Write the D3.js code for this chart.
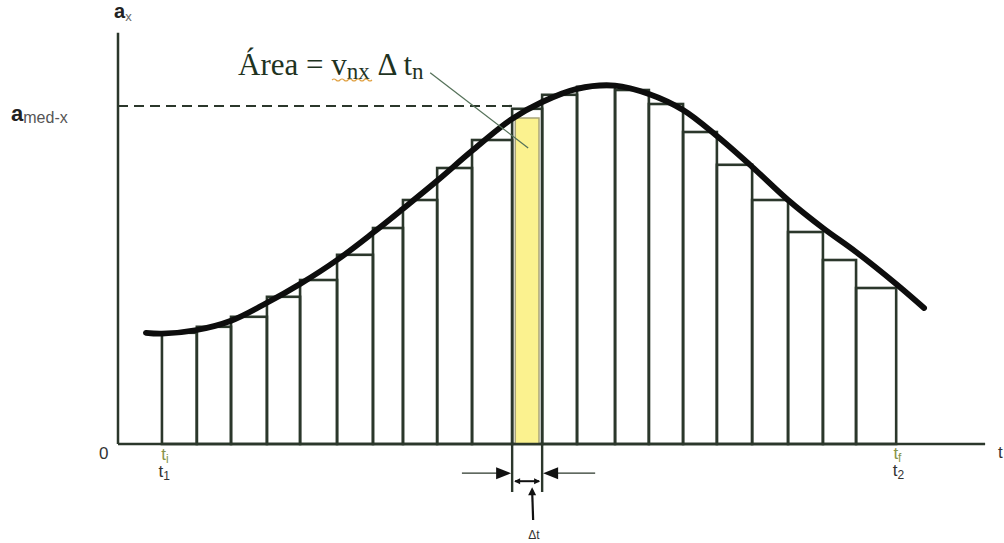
<!DOCTYPE html>
<html>
<head>
<meta charset="utf-8">
<script src="https://cdn.jsdelivr.net/npm/d3@7/dist/d3.min.js"></script>
<style>
  body { margin: 0; background: #fff; }
</style>
</head>
<body>
<script>
// t positions of the vertical lines (t_i ... t_f)
const gridT = [1.26, 2.26, 3.24, 4.27, 5.22, 6.28, 7.31, 8.17, 9.15, 10.15, 11.30,
               12.16, 13.16, 14.25, 15.22, 16.20, 17.17, 18.18, 19.21, 20.21, 21.16, 22.31];
// height of each rectangle (one per interval)
const stepA = [2.78, 2.93, 3.18, 3.68, 4.10, 4.73, 5.40, 6.10, 6.90, 7.60, 8.38,
               8.73, 8.93, 8.85, 8.50, 7.80, 6.98, 6.10, 5.30, 4.60, 3.90];
// the a_x(t) curve
const curveT = [0.80, 1.26, 2.26, 3.24, 4.27, 5.22, 6.28, 7.31, 8.17, 9.15, 10.15, 11.30,
                12.16, 13.16, 14.25, 15.22, 16.20, 17.17, 18.18, 19.21, 20.21, 21.16, 22.31, 23.11];
const curveA = [2.78, 2.76, 2.85, 3.08, 3.53, 4.00, 4.60, 5.28, 5.88, 6.58, 7.33, 8.13,
                8.55, 8.88, 8.96, 8.75, 8.35, 7.70, 6.93, 6.10, 5.40, 4.80, 4.00, 3.40];
const aMed = 8.45;
const barT = [11.39, 12.07];   // highlighted strip
const barA = 8.15;

const width = 1004, height = 543;
const ink = "#2b372b";

const svg = d3.select("body").append("svg")
    .attr("width", width)
    .attr("height", height);

const x = d3.scaleLinear().domain([0, 25]).range([118, 990]);
const y = d3.scaleLinear().domain([0, 10]).range([444, 44]);

// rectangles
svg.selectAll("rect.step")
    .data(stepA)
    .enter()
    .append("rect")
    .attr("class", "step")
    .attr("x", (d, i) => x(gridT[i]))
    .attr("width", (d, i) => x(gridT[i + 1]) - x(gridT[i]))
    .attr("y", d => y(d))
    .attr("height", d => y(0) - y(d))
    .attr("fill", "none")
    .attr("stroke", ink)
    .attr("stroke-width", 2.6);

// yellow strip
svg.append("rect")
    .attr("x", x(barT[0]))
    .attr("width", x(barT[1]) - x(barT[0]))
    .attr("y", y(barA))
    .attr("height", y(0) - y(barA))
    .attr("fill", "#fbf28f")
    .attr("stroke", "#a8a47a")
    .attr("stroke-width", 1.5);

// axes
svg.append("line")
    .attr("x1", x(0)).attr("x2", x(0))
    .attr("y1", y(0)).attr("y2", y(10.28))
    .attr("stroke", ink).attr("stroke-width", 2.5);
svg.append("line")
    .attr("x1", x(0)).attr("x2", x(24.86))
    .attr("y1", y(0)).attr("y2", y(0))
    .attr("stroke", ink).attr("stroke-width", 2.5);

// mean value dashed line
svg.append("line")
    .attr("x1", x(0)).attr("x2", x(11.33))
    .attr("y1", y(aMed)).attr("y2", y(aMed))
    .attr("stroke", ink).attr("stroke-width", 2.2)
    .attr("stroke-dasharray", "10,6");

// curve
const line = d3.line()
    .x((d, i) => x(curveT[i]))
    .y(d => y(d))
    .curve(d3.curveCatmullRom);
svg.append("path")
    .attr("d", line(curveA))
    .attr("fill", "none")
    .attr("stroke", "#0d0d0d")
    .attr("stroke-width", 5.8)
    .attr("stroke-linecap", "round");

// leader line from the label to the strip
svg.append("line")
    .attr("x1", x(8.95)).attr("y1", y(9.28))
    .attr("x2", x(11.76)).attr("y2", y(7.4))
    .attr("stroke", "#56725a").attr("stroke-width", 1.3);

// Área label
const area = svg.append("text")
    .attr("x", 238).attr("y", 75)
    .attr("font-family", "'Liberation Serif', 'Times New Roman', serif")
    .attr("font-size", 31)
    .attr("fill", "#1f331f");
area.append("tspan").text("Área = v");
area.append("tspan").attr("font-size", 23).attr("dy", 4).text("nx");
area.append("tspan").attr("dy", -4).text(" Δ t");
area.append("tspan").attr("font-size", 23).attr("dy", 4).text("n");
// wavy spell-check mark under v
svg.append("path")
    .attr("d", "M332,80 q2,-2 4,0 t4,0 t4,0 t4,0 t4,0 t4,0 t4,0 t4,0 t4,0 t4,0")
    .attr("fill", "none").attr("stroke", "#e0a040").attr("stroke-width", 1.1);

// axis labels
const sans = "'Liberation Sans', Arial, sans-serif";
const ax = svg.append("text").attr("x", 114).attr("y", 18)
    .attr("font-family", sans).attr("font-size", 20).attr("font-weight", "bold").attr("fill", "#222");
ax.append("tspan").text("a");
ax.append("tspan").attr("font-size", 13).attr("font-weight", "normal").attr("fill", "#666").attr("dy", 3).text("x");

const am = svg.append("text").attr("x", 11).attr("y", 121)
    .attr("font-family", sans).attr("font-size", 22).attr("font-weight", "bold").attr("fill", "#222");
am.append("tspan").text("a");
am.append("tspan").attr("font-size", 16).attr("font-weight", "normal").attr("fill", "#555").attr("dy", 2).text("med-x");

svg.append("text").attr("x", 99).attr("y", 459)
    .attr("font-family", sans).attr("font-size", 17).attr("fill", "#333").text("0");
svg.append("text").attr("x", 998).attr("y", 458)
    .attr("font-family", sans).attr("font-size", 17).attr("fill", "#333").text("t");

function tLabel(t, yy, sub, color) {
    const tx = svg.append("text").attr("x", x(t)).attr("y", yy)
        .attr("font-family", sans).attr("font-size", 17).attr("fill", color);
    tx.append("tspan").text("t");
    tx.append("tspan").attr("font-size", 12).attr("dy", 3).text(sub);
}
tLabel(gridT[0] - 0.02, 460, "i", "#87944a");
tLabel(gridT[0] - 0.1, 477, "1", "#333");
tLabel(gridT[gridT.length - 1] - 0.08, 459, "f", "#87944a");
tLabel(gridT[gridT.length - 1] - 0.1, 476, "2", "#333");

// Δt dimension marks
const gL = x(gridT[10]), gR = x(gridT[11]);
const yArrow = y(-0.73), yDim = y(-0.93);
[gL, gR].forEach(gx => {
    svg.append("line").attr("x1", gx).attr("x2", gx).attr("y1", y(0)).attr("y2", y(-1.2))
        .attr("stroke", ink).attr("stroke-width", 2.4);
});
svg.append("line").attr("x1", x(9.86)).attr("x2", gL - 14).attr("y1", yArrow).attr("y2", yArrow)
    .attr("stroke", ink).attr("stroke-width", 1.3);
svg.append("path").attr("d", `M${gL - 1},${yArrow} L${gL - 16},${yArrow - 6} L${gL - 16},${yArrow + 6} Z`)
    .attr("fill", "#111");
svg.append("line").attr("x1", x(13.68)).attr("x2", gR + 14).attr("y1", yArrow).attr("y2", yArrow)
    .attr("stroke", ink).attr("stroke-width", 1.3);
svg.append("path").attr("d", `M${gR + 1},${yArrow} L${gR + 16},${yArrow - 6} L${gR + 16},${yArrow + 6} Z`)
    .attr("fill", "#111");
svg.append("line").attr("x1", gL + 3).attr("x2", gR - 3).attr("y1", yDim).attr("y2", yDim)
    .attr("stroke", "#111").attr("stroke-width", 2);
svg.append("path").attr("d", `M${gL + 2},${yDim} L${gL + 8},${yDim - 3} L${gL + 8},${yDim + 3} Z`).attr("fill", "#111");
svg.append("path").attr("d", `M${gR - 2},${yDim} L${gR - 8},${yDim - 3} L${gR - 8},${yDim + 3} Z`).attr("fill", "#111");
const px = (gL + gR) / 2 + 5;
svg.append("line").attr("x1", px + 1).attr("x2", px).attr("y1", y(-1.9)).attr("y2", y(-1.15))
    .attr("stroke", "#111").attr("stroke-width", 2.2);
svg.append("path").attr("d", `M${px},${y(-1.08)} L${px - 4},${y(-1.08) + 8} L${px + 4},${y(-1.08) + 8} Z`)
    .attr("fill", "#111");
svg.append("text").attr("x", px - 4).attr("y", 539)
    .attr("font-family", sans).attr("font-size", 12).attr("fill", "#333").text("Δt");
</script>
</body>
</html>
